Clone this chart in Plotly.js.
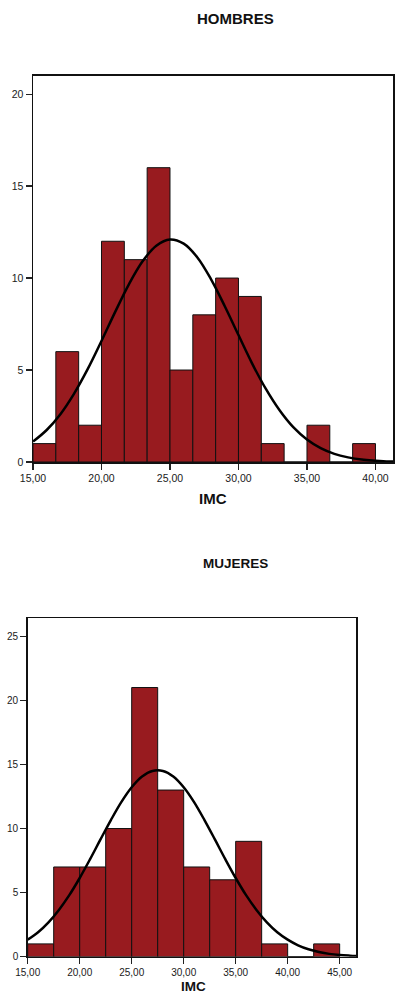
<!DOCTYPE html>
<html>
<head>
<meta charset="utf-8">
<script src="https://cdn.plot.ly/plotly-3.0.1.min.js"></script>
<style>html,body{margin:0;padding:0;background:#fff;}#chart{width:396px;height:995px;}</style>
</head>
<body>
<div id="chart"></div>
<script>
// HOMBRES histogram (IMC), bin width 5/3
const menBinStart = [15, 16.6667, 18.3333, 20, 21.6667, 23.3333, 25, 26.6667, 28.3333, 30, 31.6667, 33.3333, 35, 36.6667, 38.3333];
const menCounts   = [1, 6, 2, 12, 11, 16, 5, 8, 10, 9, 1, 0, 2, 0, 1];
const menBinWidth = 5/3;
// Normal curve (HOMBRES)
const menCurveX = [15,16,17,18,19,20,21,22,23,24,25,26,27,28,29,30,31,32,33,34,35,36,37,38,39,40,41,41.3];
const menCurveY = [1.11,1.74,2.60,3.72,5.06,6.58,8.16,9.66,10.91,11.76,12.10,11.87,11.12,9.93,8.47,6.90,5.35,3.97,2.81,1.89,1.22,0.75,0.44,0.25,0.13,0.07,0.03,0.03];

// MUJERES histogram (IMC), bin width 2.5
const womenBinStart = [15, 17.5, 20, 22.5, 25, 27.5, 30, 32.5, 35, 37.5, 40, 42.5];
const womenCounts   = [1, 7, 7, 10, 21, 13, 7, 6, 9, 1, 0, 1];
const womenBinWidth = 2.5;
// Normal curve (MUJERES)
const womenCurveX = [15,16,17,18,19,20,21,22,23,24,25,26,27,28,29,30,31,32,33,34,35,36,37,38,39,40,41,42,43,44,45,46,46.6];
const womenCurveY = [1.33,1.91,2.68,3.65,4.80,6.14,7.61,9.15,10.66,12.06,13.22,14.06,14.49,14.49,14.06,13.22,12.06,10.66,9.15,7.61,6.14,4.80,3.65,2.68,1.91,1.33,0.89,0.58,0.37,0.22,0.13,0.08,0.06];

const xTickVals1 = [15,20,25,30,35,40];
const xTickVals2 = [15,20,25,30,35,40,45];

const FONT = 'Liberation Sans, Arial, sans-serif';
const BAR = '#981B1F';

const W = 396, H = 995;
const px = v => v / W;
const py = v => (H - v) / H;

const traces = [
  {type:'bar', x: menBinStart, y: menCounts, offset: 0, width: menBinWidth,
   marker:{color:BAR, line:{color:'#111', width:1}}, xaxis:'x', yaxis:'y', hoverinfo:'x+y'},
  {type:'scatter', mode:'lines', x: menCurveX, y: menCurveY, line:{color:'#000', width:2.5, shape:'spline'},
   xaxis:'x', yaxis:'y'},
  {type:'bar', x: womenBinStart, y: womenCounts, offset: 0, width: womenBinWidth,
   marker:{color:BAR, line:{color:'#111', width:1}}, xaxis:'x2', yaxis:'y2', hoverinfo:'x+y'},
  {type:'scatter', mode:'lines', x: womenCurveX, y: womenCurveY, line:{color:'#000', width:2.5, shape:'spline'},
   xaxis:'x2', yaxis:'y2'}
];

const axBase = {
  showgrid:false, zeroline:false, showline:true, mirror:true,
  linecolor:'#111', linewidth:1.5, ticks:'outside', ticklen:6, tickwidth:1.2, tickcolor:'#222',
  tickfont:{family:FONT, size:10.5, color:'#1a1a1a'}, fixedrange:true
};
const axSmall = Object.assign({}, axBase, {tickfont:{family:FONT, size:10, color:'#1a1a1a'}});

const layout = {
  width: W, height: H,
  margin:{l:0, r:0, t:0, b:0},
  paper_bgcolor:'#fff', plot_bgcolor:'#fff',
  showlegend:false,
  separators: ',.',
  bargap: 0,
  font:{family:FONT},
  xaxis: Object.assign({}, axBase, {domain:[px(33), px(393)], range:[15, 41.28], tickvals: xTickVals1, tickformat:'.2f', anchor:'y'}),
  yaxis: Object.assign({}, axBase, {domain:[py(462), py(75.7)], range:[0, 21], dtick:5, tick0:0, anchor:'x'}),
  xaxis2: Object.assign({}, axSmall, {domain:[px(27.7), px(356.3)], range:[15, 46.6], tickvals: xTickVals2, tickformat:'.2f', anchor:'y2'}),
  yaxis2: Object.assign({}, axSmall, {domain:[py(956.7), py(618.3)], range:[0, 26.4], dtick:5, tick0:0, anchor:'x2'}),
  annotations: [
    {text:'<b>HOMBRES</b>', x:px(236), y:py(18), xref:'paper', yref:'paper', xanchor:'center', yanchor:'middle', showarrow:false, font:{family:FONT, size:15, color:'#111'}},
    {text:'<b>IMC</b>', x:px(213), y:py(499), xref:'paper', yref:'paper', xanchor:'center', yanchor:'middle', showarrow:false, font:{family:FONT, size:15, color:'#111'}},
    {text:'<b>MUJERES</b>', x:px(236), y:py(563), xref:'paper', yref:'paper', xanchor:'center', yanchor:'middle', showarrow:false, font:{family:FONT, size:13.5, color:'#111'}},
    {text:'<b>IMC</b>', x:px(193), y:py(995), xref:'paper', yref:'paper', xanchor:'center', yanchor:'bottom', showarrow:false, borderpad:0, font:{family:FONT, size:13.5, color:'#111'}}
  ]
};

Plotly.newPlot('chart', traces, layout, {displayModeBar:false, staticPlot:true});
</script>
</body>
</html>
